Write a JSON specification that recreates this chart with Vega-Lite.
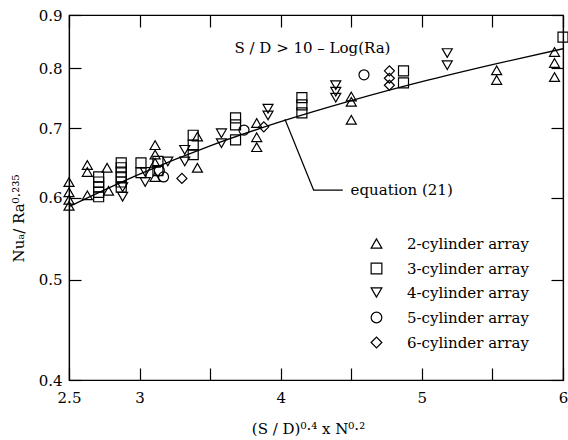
{
  "$schema": "https://vega.github.io/schema/vega-lite/v6.json",
  "width": 494,
  "height": 365,
  "autosize": {"type": "none"},
  "padding": {"left": 69, "top": 15, "right": 5, "bottom": 60},
  "config": {
    "font": "DejaVu Serif",
    "view": {"stroke": "black", "strokeWidth": 1.2},
    "axis": {"domainColor": "black", "tickColor": "black", "labelColor": "black", "titleColor": "black", "grid": false, "labelFont": "DejaVu Serif", "titleFont": "DejaVu Serif", "labelFontSize": 15, "titleFontSize": 15, "titleFontWeight": "normal", "tickSize": -12, "domainWidth": 1.2, "tickWidth": 1.2, "labelFlush": false},
    "legend": {"labelFont": "DejaVu Serif", "labelFontSize": 15, "labelColor": "black"}
  },
  "datasets": {
    "pts": [
      {"x": 2.5, "y": 0.621, "s": "2-cylinder array"},
      {"x": 2.5, "y": 0.607, "s": "2-cylinder array"},
      {"x": 2.5, "y": 0.597, "s": "2-cylinder array"},
      {"x": 2.5, "y": 0.589, "s": "2-cylinder array"},
      {"x": 2.63, "y": 0.603, "s": "2-cylinder array"},
      {"x": 2.63, "y": 0.645, "s": "2-cylinder array"},
      {"x": 2.63, "y": 0.635, "s": "2-cylinder array"},
      {"x": 2.77, "y": 0.641, "s": "2-cylinder array"},
      {"x": 2.78, "y": 0.609, "s": "2-cylinder array"},
      {"x": 3.11, "y": 0.674, "s": "2-cylinder array"},
      {"x": 3.11, "y": 0.660, "s": "2-cylinder array"},
      {"x": 3.11, "y": 0.648, "s": "2-cylinder array"},
      {"x": 3.11, "y": 0.628, "s": "2-cylinder array"},
      {"x": 3.41, "y": 0.687, "s": "2-cylinder array"},
      {"x": 3.41, "y": 0.641, "s": "2-cylinder array"},
      {"x": 3.83, "y": 0.708, "s": "2-cylinder array"},
      {"x": 3.83, "y": 0.686, "s": "2-cylinder array"},
      {"x": 3.83, "y": 0.671, "s": "2-cylinder array"},
      {"x": 4.50, "y": 0.751, "s": "2-cylinder array"},
      {"x": 4.50, "y": 0.742, "s": "2-cylinder array"},
      {"x": 4.50, "y": 0.713, "s": "2-cylinder array"},
      {"x": 5.53, "y": 0.796, "s": "2-cylinder array"},
      {"x": 5.53, "y": 0.779, "s": "2-cylinder array"},
      {"x": 5.94, "y": 0.829, "s": "2-cylinder array"},
      {"x": 5.94, "y": 0.809, "s": "2-cylinder array"},
      {"x": 5.94, "y": 0.784, "s": "2-cylinder array"},
      {"x": 2.71, "y": 0.628, "s": "3-cylinder array"},
      {"x": 2.71, "y": 0.621, "s": "3-cylinder array"},
      {"x": 2.71, "y": 0.614, "s": "3-cylinder array"},
      {"x": 2.71, "y": 0.607, "s": "3-cylinder array"},
      {"x": 2.71, "y": 0.601, "s": "3-cylinder array"},
      {"x": 2.87, "y": 0.648, "s": "3-cylinder array"},
      {"x": 2.87, "y": 0.641, "s": "3-cylinder array"},
      {"x": 2.87, "y": 0.635, "s": "3-cylinder array"},
      {"x": 2.87, "y": 0.628, "s": "3-cylinder array"},
      {"x": 2.87, "y": 0.621, "s": "3-cylinder array"},
      {"x": 2.87, "y": 0.614, "s": "3-cylinder array"},
      {"x": 3.01, "y": 0.648, "s": "3-cylinder array"},
      {"x": 3.01, "y": 0.634, "s": "3-cylinder array"},
      {"x": 3.13, "y": 0.650, "s": "3-cylinder array"},
      {"x": 3.13, "y": 0.637, "s": "3-cylinder array"},
      {"x": 3.38, "y": 0.689, "s": "3-cylinder array"},
      {"x": 3.38, "y": 0.674, "s": "3-cylinder array"},
      {"x": 3.38, "y": 0.660, "s": "3-cylinder array"},
      {"x": 3.68, "y": 0.716, "s": "3-cylinder array"},
      {"x": 3.68, "y": 0.705, "s": "3-cylinder array"},
      {"x": 3.68, "y": 0.682, "s": "3-cylinder array"},
      {"x": 4.15, "y": 0.749, "s": "3-cylinder array"},
      {"x": 4.15, "y": 0.737, "s": "3-cylinder array"},
      {"x": 4.15, "y": 0.724, "s": "3-cylinder array"},
      {"x": 4.87, "y": 0.795, "s": "3-cylinder array"},
      {"x": 4.87, "y": 0.774, "s": "3-cylinder array"},
      {"x": 6.0, "y": 0.857, "s": "3-cylinder array"},
      {"x": 2.88, "y": 0.614, "s": "4-cylinder array"},
      {"x": 2.88, "y": 0.601, "s": "4-cylinder array"},
      {"x": 3.04, "y": 0.635, "s": "4-cylinder array"},
      {"x": 3.04, "y": 0.621, "s": "4-cylinder array"},
      {"x": 3.20, "y": 0.650, "s": "4-cylinder array"},
      {"x": 3.32, "y": 0.667, "s": "4-cylinder array"},
      {"x": 3.32, "y": 0.650, "s": "4-cylinder array"},
      {"x": 3.58, "y": 0.692, "s": "4-cylinder array"},
      {"x": 3.58, "y": 0.677, "s": "4-cylinder array"},
      {"x": 3.91, "y": 0.731, "s": "4-cylinder array"},
      {"x": 3.91, "y": 0.720, "s": "4-cylinder array"},
      {"x": 4.39, "y": 0.770, "s": "4-cylinder array"},
      {"x": 4.39, "y": 0.759, "s": "4-cylinder array"},
      {"x": 4.39, "y": 0.749, "s": "4-cylinder array"},
      {"x": 5.18, "y": 0.827, "s": "4-cylinder array"},
      {"x": 5.18, "y": 0.805, "s": "4-cylinder array"},
      {"x": 3.17, "y": 0.628, "s": "5-cylinder array"},
      {"x": 3.14, "y": 0.637, "s": "5-cylinder array"},
      {"x": 3.74, "y": 0.697, "s": "5-cylinder array"},
      {"x": 4.59, "y": 0.788, "s": "5-cylinder array"},
      {"x": 3.30, "y": 0.626, "s": "6-cylinder array"},
      {"x": 3.88, "y": 0.702, "s": "6-cylinder array"},
      {"x": 4.77, "y": 0.795, "s": "6-cylinder array"},
      {"x": 4.77, "y": 0.782, "s": "6-cylinder array"},
      {"x": 4.77, "y": 0.770, "s": "6-cylinder array"}
    ],
    "curve": [
      {"x": 2.5, "y": 0.588},
      {"x": 3.0, "y": 0.632},
      {"x": 3.5, "y": 0.673},
      {"x": 4.0, "y": 0.710},
      {"x": 4.5, "y": 0.744},
      {"x": 5.0, "y": 0.776},
      {"x": 5.5, "y": 0.806},
      {"x": 6.0, "y": 0.835}
    ],
    "leader": [
      {"x": 4.03, "y": 0.714, "o": 1},
      {"x": 4.233, "y": 0.610, "o": 2},
      {"x": 4.44, "y": 0.610, "o": 3}
    ],
    "eq": [
      {"x": 4.495, "y": 0.610, "t": "equation (21)"}
    ],
    "cond": [
      {"x": 4.225, "y": 0.836, "t": "S / D > 10 – Log(Ra)"}
    ]
  },
  "layer": [
    {
      "data": {"name": "curve"},
      "mark": {"type": "line", "color": "black", "strokeWidth": 1.3, "interpolate": "monotone"},
      "encoding": {
        "x": {"field": "x", "type": "quantitative", "scale": {"domain": [2.5, 6], "nice": false, "zero": false},
              "axis": {"orient": "top", "values": [2.5, 3, 3.5, 4, 4.5, 5, 5.5, 6], "labels": false, "title": null}},
        "y": {"field": "y", "type": "quantitative", "scale": {"type": "log", "domain": [0.4, 0.9], "nice": false},
              "axis": {"orient": "right", "values": [0.4, 0.5, 0.6, 0.7, 0.8, 0.9], "labels": false, "title": null}}
      }
    },
    {
      "data": {"name": "leader"},
      "mark": {"type": "line", "color": "black", "strokeWidth": 1.2},
      "encoding": {
        "x": {"field": "x", "type": "quantitative", "axis": null},
        "y": {"field": "y", "type": "quantitative", "axis": null},
        "order": {"field": "o", "type": "quantitative"}
      }
    },
    {
      "data": {"name": "pts"},
      "mark": {"type": "point", "filled": false, "color": "black", "size": 100, "strokeWidth": 1.2, "opacity": 1},
      "encoding": {
        "x": {"field": "x", "type": "quantitative",
              "axis": {"orient": "bottom", "values": [2.5, 3, 3.5, 4, 4.5, 5, 5.5, 6], "labelExpr": "indexof([3.5, 4.5, 5.5], datum.value) >= 0 ? '' : '' + datum.value", "labelPadding": 22, "title": "(S / D)⁰·⁴ x N⁰·²", "titleX": 239, "titleY": 41, "titleBaseline": "top"}},
        "y": {"field": "y", "type": "quantitative",
              "axis": {"orient": "left", "values": [0.4, 0.5, 0.6, 0.7, 0.8, 0.9], "format": ".1f", "labelPadding": 19, "title": "Nuₐ/ Ra⁰·²³⁵", "titleX": -43, "titleY": 203, "titleBaseline": "bottom"}},
        "shape": {"field": "s", "type": "nominal",
                  "scale": {"domain": ["2-cylinder array", "3-cylinder array", "4-cylinder array", "5-cylinder array", "6-cylinder array"],
                            "range": ["triangle-up", "square", "triangle-down", "circle", "diamond"]},
                  "legend": {"title": null, "orient": "none", "legendX": 300, "legendY": 221, "symbolSize": 115, "symbolStrokeWidth": 1.2, "symbolStrokeColor": "black", "symbolFillColor": "transparent", "rowPadding": 8, "labelOffset": 23}}
      }
    },
    {
      "data": {"name": "eq"},
      "mark": {"type": "text", "font": "DejaVu Serif", "fontSize": 15, "color": "black", "baseline": "middle", "align": "left"},
      "encoding": {
        "x": {"field": "x", "type": "quantitative", "axis": null},
        "y": {"field": "y", "type": "quantitative", "axis": null},
        "text": {"field": "t"}
      }
    },
    {
      "data": {"name": "cond"},
      "mark": {"type": "text", "font": "DejaVu Serif", "fontSize": 15, "color": "black", "baseline": "middle", "align": "center"},
      "encoding": {
        "x": {"field": "x", "type": "quantitative", "axis": null},
        "y": {"field": "y", "type": "quantitative", "axis": null},
        "text": {"field": "t"}
      }
    }
  ]
}
